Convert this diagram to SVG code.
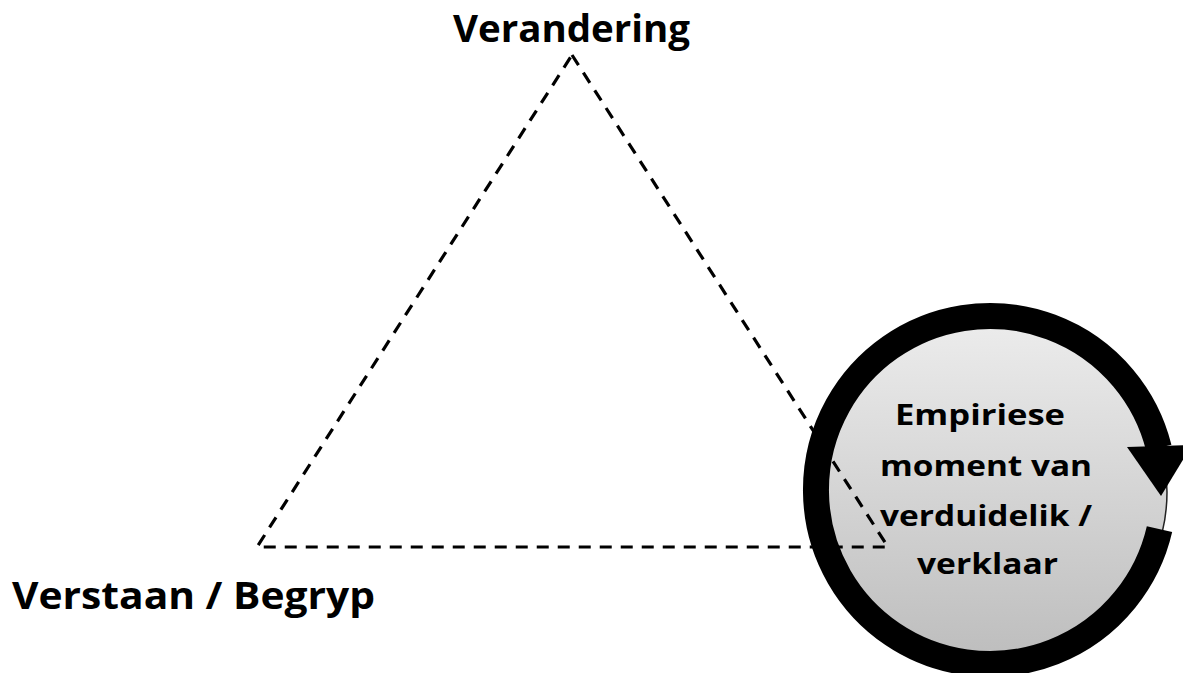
<svg xmlns="http://www.w3.org/2000/svg" width="1183" height="673" viewBox="0 0 1183 673">
  <style>
    .lbl { font-family: "Open Sans", "Noto Sans", "Liberation Sans", sans-serif; font-weight: bold; fill: #000; }
    .big { font-size: 38px; }
    .mid { font-size: 29px; text-anchor: middle; }
    .dash { fill: none; stroke: #000; stroke-width: 3.2; stroke-dasharray: 12 9; }
  </style>
  <defs>
    <linearGradient id="g" x1="0" y1="0" x2="0" y2="1">
      <stop offset="0" stop-color="#ececec"/>
      <stop offset="1" stop-color="#bdbdbd"/>
    </linearGradient>
  </defs>
  <rect width="1183" height="673" fill="#fff"/>

  <g id="node-empiriese">
    <circle cx="997" cy="492" r="170" fill="url(#g)" stroke="#222" stroke-width="1.5"/>
  </g>

  <g id="connectors">
    <path class="dash" d="M572 55 L888 547 L257 547 Z"/>
  </g>

  <g id="cycle-arrow">
    <path d="M1159.5 529.1 A174 174 0 1 1 1158.8 447.9" fill="none" stroke="#000" stroke-width="26"/>
    <polygon points="1127,447 1192,445 1161,496" fill="#000"/>
  </g>

  <g id="node-empiriese-text">
    <text class="lbl mid" x="980" y="425" textLength="170" lengthAdjust="spacingAndGlyphs">Empiriese</text>
    <text class="lbl mid" x="986" y="476" textLength="212" lengthAdjust="spacingAndGlyphs">moment van</text>
    <text class="lbl mid" x="986" y="526" textLength="212" lengthAdjust="spacingAndGlyphs">verduidelik /</text>
    <text class="lbl mid" x="987.5" y="574" textLength="141" lengthAdjust="spacingAndGlyphs">verklaar</text>
  </g>

  <g id="node-verandering">
    <text class="lbl big" x="453" y="42" textLength="237" lengthAdjust="spacingAndGlyphs">Verandering</text>
  </g>

  <g id="node-verstaan">
    <text class="lbl big" x="12" y="609" textLength="363" lengthAdjust="spacingAndGlyphs">Verstaan / Begryp</text>
  </g>
</svg>
